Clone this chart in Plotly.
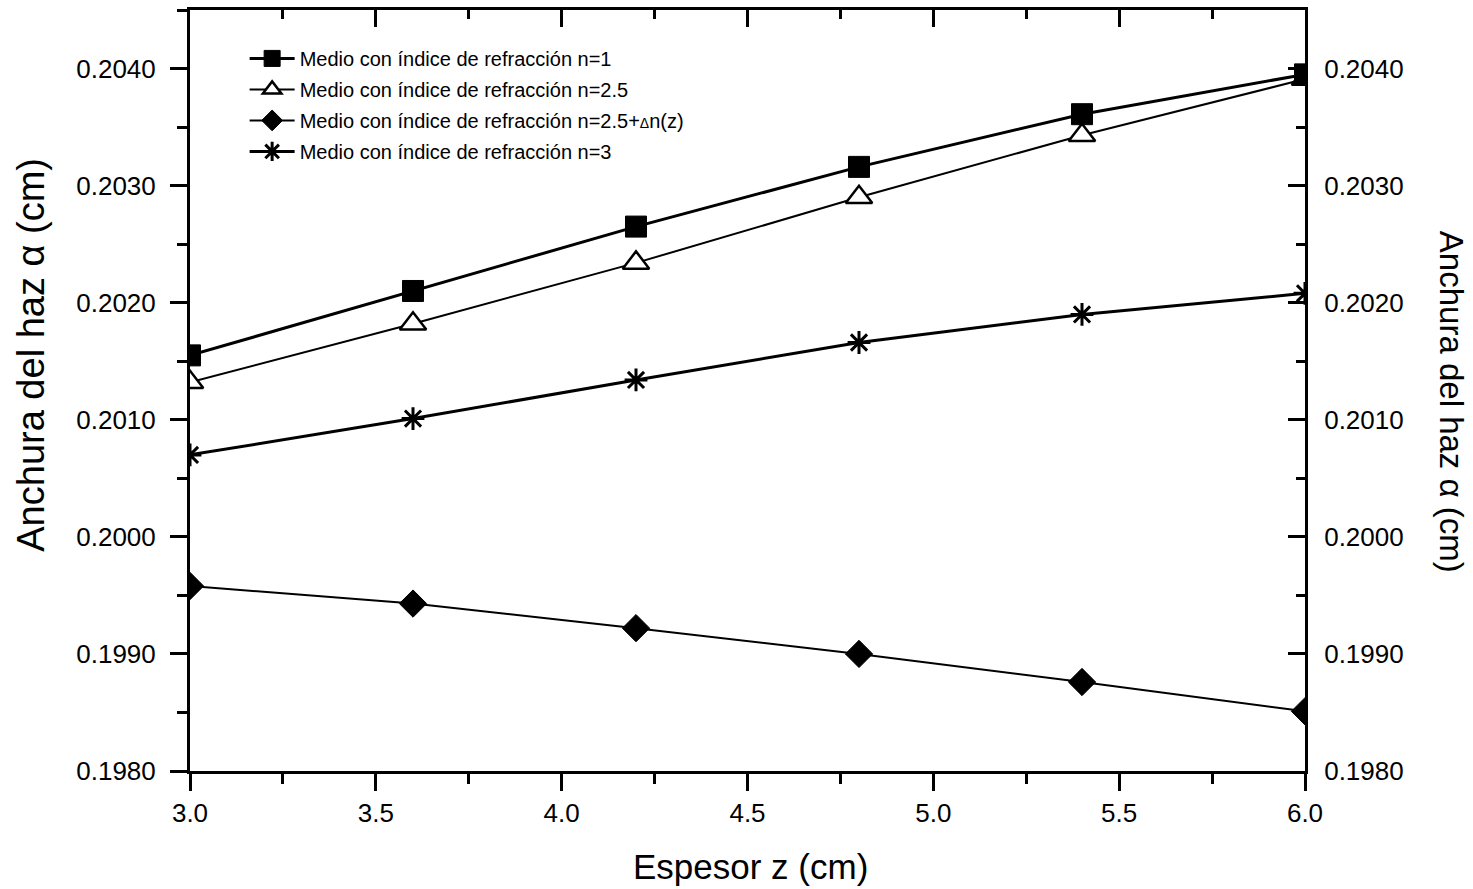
import plotly.graph_objects as go

# ---- data ----
espesor_z = [3.0, 3.6, 4.2, 4.8, 5.4, 6.0]
n1 = [0.20155, 0.20210, 0.20265, 0.20316, 0.20361, 0.20395]
n25 = [0.20132, 0.20182, 0.20234, 0.20290, 0.20343, 0.20391]
n25_dn = [0.19958, 0.19943, 0.19922, 0.19900, 0.19876, 0.19851]
n3 = [0.20070, 0.20101, 0.20134, 0.20166, 0.20190, 0.20208]

names = [
    "Medio con índice de refracción n=1",
    "Medio con índice de refracción n=2.5",
    "Medio con índice de refracción n=2.5+<span style='font-size:14px'>Δ</span>n(z)",
    "Medio con índice de refracción n=3",
]

FONT = "Liberation Sans, Arial, sans-serif"

fig = go.Figure()
# first series drawn on the mirrored (top/right) axes so those axes are rendered
fig.add_trace(go.Scatter(
    x=espesor_z, y=n1, name=names[0], mode="lines+markers", legendgroup="a",
    xaxis="x2", yaxis="y2",
    line=dict(color="black", width=3),
    marker=dict(symbol="square", size=21, color="black", line=dict(color="black", width=1)),
))
fig.add_trace(go.Scatter(
    x=espesor_z, y=n25, name=names[1], mode="lines+markers", legendgroup="b",
    line=dict(color="black", width=2),
    marker=dict(symbol="triangle-up", size=23, color="white", line=dict(color="black", width=2.5)),
))
fig.add_trace(go.Scatter(
    x=espesor_z, y=n25_dn, name=names[2], mode="lines+markers", legendgroup="c",
    line=dict(color="black", width=2),
    marker=dict(symbol="diamond", size=21, color="black", line=dict(color="black", width=1)),
))
fig.add_trace(go.Scatter(
    x=espesor_z, y=n3, name=names[3], mode="lines+markers", legendgroup="d",
    line=dict(color="black", width=3),
    marker=dict(symbol="asterisk-open", size=19, color="black", line=dict(color="black", width=3)),
))

xr = [3.0, 6.0]
yr = [0.1980, 0.2045]
tickfont = dict(family=FONT, size=26, color="black")

fig.update_layout(
    width=1473, height=889,
    margin=dict(l=190, r=168, t=10, b=118),
    paper_bgcolor="white", plot_bgcolor="white",
    font=dict(family=FONT, color="black"),
    showlegend=True,
    legend=dict(
        x=0.049, y=0.962, xanchor="left", yanchor="top",
        font=dict(family=FONT, size=20, color="black"),
        bgcolor="rgba(0,0,0,0)", itemwidth=45, tracegroupgap=2,
    ),
    xaxis=dict(
        range=xr, dtick=0.5, tick0=3.0, tickformat=".1f",
        ticks="outside", ticklen=17, tickwidth=2.5, tickcolor="black",
        minor=dict(dtick=0.25, ticks="outside", ticklen=10, tickwidth=2.5, tickcolor="black"),
        showline=True, linewidth=3, linecolor="black", showgrid=False, zeroline=False,
        tickfont=tickfont, ticklabelstandoff=0,
    ),
    xaxis2=dict(
        range=xr, overlaying="x", side="top", dtick=0.5, tick0=3.0,
        ticks="inside", ticklen=17, tickwidth=2.5, tickcolor="black",
        minor=dict(dtick=0.25, ticks="inside", ticklen=9, tickwidth=2.5, tickcolor="black"),
        showline=True, linewidth=3, linecolor="black", showgrid=False, zeroline=False,
        showticklabels=False,
    ),
    yaxis=dict(
        range=yr, dtick=0.001, tick0=0.198, tickformat=".4f",
        ticks="outside", ticklen=17, tickwidth=2.5, tickcolor="black",
        minor=dict(dtick=0.0005, ticks="outside", ticklen=10, tickwidth=2.5, tickcolor="black"),
        showline=True, linewidth=3, linecolor="black", showgrid=False, zeroline=False,
        tickfont=tickfont, ticklabelstandoff=9,
    ),
    yaxis2=dict(
        range=yr, overlaying="y", side="right", dtick=0.001, tick0=0.198,
        tickformat=".4f",
        ticks="inside", ticklen=17, tickwidth=2.5, tickcolor="black",
        minor=dict(dtick=0.0005, ticks="inside", ticklen=9, tickwidth=2.5, tickcolor="black"),
        showline=True, linewidth=3, linecolor="black", showgrid=False, zeroline=False,
        tickfont=tickfont, ticklabelstandoff=11,
    ),
    annotations=[
        dict(text="Anchura del haz α (cm)", xref="paper", yref="paper",
             x=-0.1426, y=0.547, xanchor="center", yanchor="middle", textangle=-90,
             showarrow=False, font=dict(family=FONT, size=38, color="black")),
        dict(text="Anchura del haz α (cm)", xref="paper", yref="paper",
             x=1.131, y=0.485, xanchor="center", yanchor="middle", textangle=90,
             showarrow=False, font=dict(family=FONT, size=33, color="black")),
        dict(text="Espesor z (cm)", xref="paper", yref="paper",
             x=0.503, y=-0.125, xanchor="center", yanchor="middle",
             showarrow=False, font=dict(family=FONT, size=35, color="black")),
    ],
)

fig.write_html("out.html")
